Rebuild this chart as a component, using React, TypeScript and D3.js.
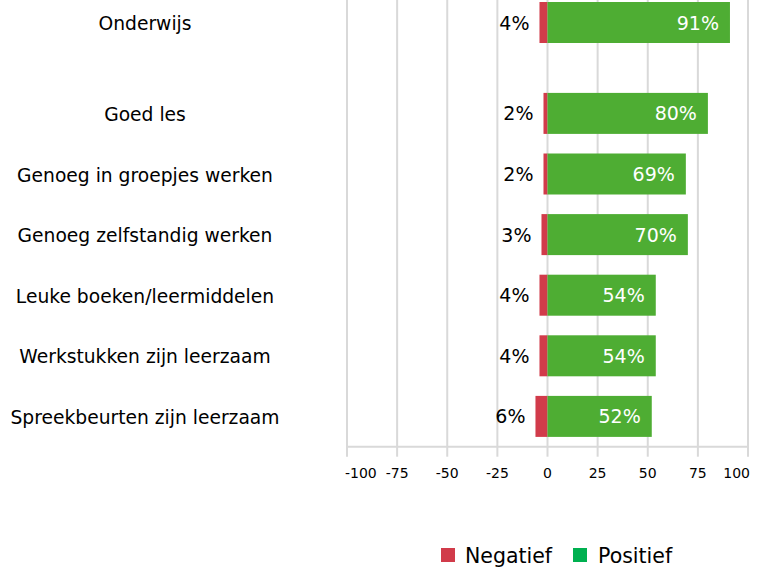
import React from 'react';
import * as d3 from 'd3';

// chart values
const categories = [
  'Onderwijs',
  'Goed les',
  'Genoeg in groepjes werken',
  'Genoeg zelfstandig werken',
  'Leuke boeken/leermiddelen',
  'Werkstukken zijn leerzaam',
  'Spreekbeurten zijn leerzaam',
];
const negatief = [4, 2, 2, 3, 4, 4, 6];
const positief = [91, 80, 69, 70, 54, 54, 52];
const xTicks = [-100, -75, -50, -25, 0, 25, 50, 75, 100];
const legendItems = ['Negatief', 'Positief'];

const FONT = 'DejaVu Sans, Verdana, sans-serif';
const RED = '#d13b4a';
const GREEN = '#4ead33';
const LEGEND_GREEN = '#00b050';
const GRID = '#d9d9d9';

const App = () => {
  const width = 757;
  const height = 571;

  const x = d3.scaleLinear().domain([-100, 100]).range([347, 748]);

  // first category stands apart from the rest by half a row
  const slot = (i: number) => (i === 0 ? 0 : i + 0.5);
  const step = 60.6;
  const y = d3.scaleLinear().domain([0, 1]).range([22.5, 22.5 + step]);
  const barH = 41;
  const axisY = y(slot(categories.length - 1)) + step / 2;

  const labelX = 145;

  return (
    <svg
      width={width}
      height={height}
      style={{ position: 'absolute', left: 0, top: 0, background: '#fff' }}
      fontFamily={FONT}
    >
      {/* gridlines */}
      {xTicks.map(t => (
        <line key={'g' + t} x1={x(t)} x2={x(t)} y1={0} y2={axisY} stroke={GRID} strokeWidth={2} />
      ))}

      {/* axis line + ticks */}
      <line x1={x(-100) - 1} x2={x(100) + 1} y1={axisY} y2={axisY} stroke={GRID} strokeWidth={2} />
      {xTicks.map((t, i) => (
        <g key={'t' + t}>
          <line x1={x(t)} x2={x(t)} y1={axisY} y2={axisY + 10} stroke={GRID} strokeWidth={2} />
          <text
            x={i === 0 ? x(t) - 2 : i === xTicks.length - 1 ? x(t) + 2 : x(t)}
            y={axisY + 27}
            fontSize={14}
            fill="#000"
            textAnchor={i === 0 ? 'start' : i === xTicks.length - 1 ? 'end' : 'middle'}
            dominantBaseline="middle"
          >
            {t}
          </text>
        </g>
      ))}

      {/* bars */}
      {categories.map((c, i) => {
        const cy = y(slot(i));
        return (
          <g key={c}>
            <text x={labelX} y={cy + 2} fontSize={18.7} textAnchor="middle" dominantBaseline="middle" fill="#000">
              {c}
            </text>
            <rect x={x(-negatief[i])} y={cy - barH / 2} width={x(0) - x(-negatief[i])} height={barH} fill={RED} />
            <rect x={x(0)} y={cy - barH / 2} width={x(positief[i]) - x(0)} height={barH} fill={GREEN} />
            <text
              x={x(-negatief[i]) - 10}
              y={cy + 1.5}
              fontSize={19}
              textAnchor="end"
              dominantBaseline="middle"
              fill="#000"
            >
              {negatief[i]}%
            </text>
            <text
              x={x(positief[i]) - 11}
              y={cy + 1.5}
              fontSize={19}
              textAnchor="end"
              dominantBaseline="middle"
              fill="#fff"
            >
              {positief[i]}%
            </text>
          </g>
        );
      })}

      {/* legend */}
      <g>
        <rect x={441} y={548} width={14} height={14} fill={RED} />
        <text x={465} y={557} fontSize={20.5} dominantBaseline="middle" fill="#000">
          {legendItems[0]}
        </text>
        <rect x={573} y={548} width={14} height={14} fill={LEGEND_GREEN} />
        <text x={598} y={557} fontSize={20.5} dominantBaseline="middle" fill="#000">
          {legendItems[1]}
        </text>
      </g>
    </svg>
  );
};

export default App;
